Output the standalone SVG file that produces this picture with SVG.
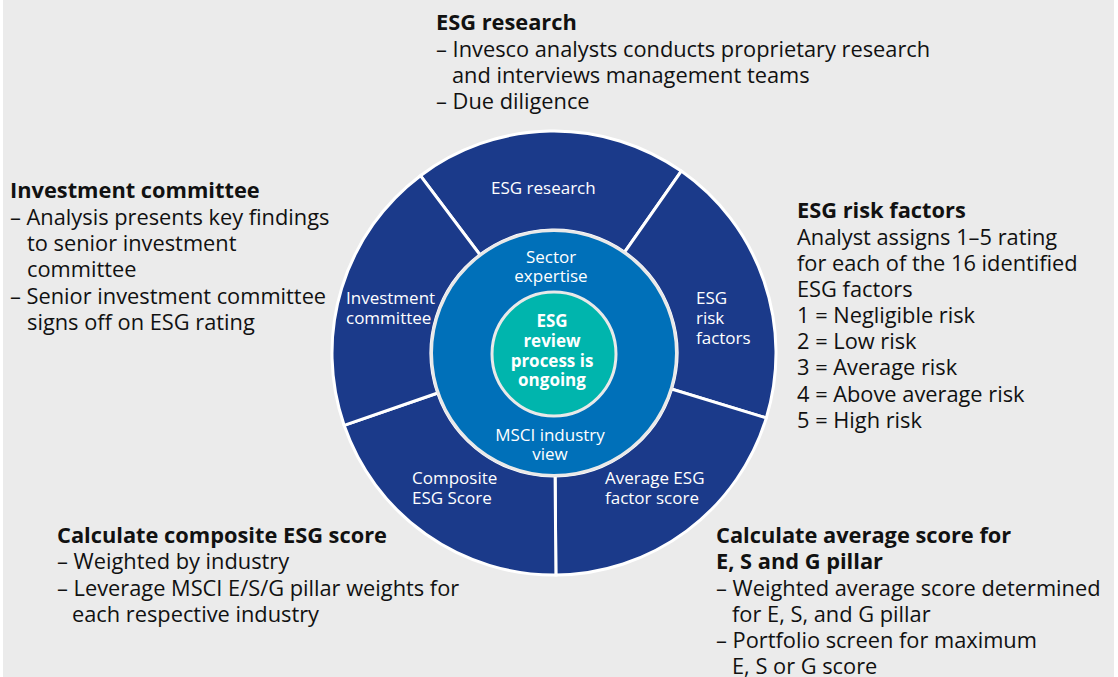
<svg xmlns="http://www.w3.org/2000/svg" width="1118" height="677" viewBox="0 0 1118 677">
<style>
.bg{fill:#ebebeb}
.seg{fill:#1b3a8a;stroke:#ffffff;stroke-width:3;stroke-linejoin:miter}
.ring{fill:#0070b9;stroke:#e9e9e9;stroke-width:3}
.core{fill:#00b5ad;stroke:#e9e9e9;stroke-width:3}
text{font-family:"Open Sans","Liberation Sans",sans-serif}
.h{font-size:21.8px;font-weight:700;fill:#111}
.t{font-size:21.8px;fill:#111}
.w{font-size:17px;fill:#fff}
.wb{font-size:17px;font-weight:700;fill:#fff}
.c{text-anchor:middle}
</style>
<rect x="0" y="0" width="1118" height="677" fill="#ffffff"/>
<rect class="bg" x="3" y="0" width="1111" height="677"/>

<g id="seg-research">
<path class="seg" d="M420.4 175.7 A222 222 0 0 1 681.3 171.1 L624.6 252.2 A123 123 0 0 0 480.0 254.8 Z"/>
<text class="w" x="491" y="194">ESG research</text>
</g>
<g id="seg-risk">
<path class="seg" d="M681.3 171.1 A222 222 0 0 1 766.3 417.9 L671.6 389.0 A123 123 0 0 0 624.6 252.2 Z"/>
<text class="w" x="696" y="304">ESG</text>
<text class="w" x="696" y="324">risk</text>
<text class="w" x="696" y="344">factors</text>
</g>
<g id="seg-average">
<path class="seg" d="M766.3 417.9 A222 222 0 0 1 555.9 575 L555.1 476 A123 123 0 0 0 671.6 389.0 Z"/>
<text class="w" x="605" y="484">Average ESG</text>
<text class="w" x="605" y="504">factor score</text>
</g>
<g id="seg-composite">
<path class="seg" d="M555.9 575 A222 222 0 0 1 344.1 425.3 L437.7 393.0 A123 123 0 0 0 555.1 476 Z"/>
<text class="w" x="412" y="484">Composite</text>
<text class="w" x="412" y="504">ESG Score</text>
</g>
<g id="seg-committee">
<path class="seg" d="M344.1 425.3 A222 222 0 0 1 420.4 175.7 L480.0 254.8 A123 123 0 0 0 437.7 393.0 Z"/>
<text class="w" x="346" y="304">Investment</text>
<text class="w" x="346" y="324">committee</text>
</g>

<g id="ring">
<circle class="ring" cx="554" cy="353" r="122.5"/>
<text class="w c" x="551" y="263">Sector</text>
<text class="w c" x="551" y="282">expertise</text>
<text class="w c" x="550" y="441">MSCI industry</text>
<text class="w c" x="550" y="460">view</text>
</g>

<g id="core">
<circle class="core" cx="554" cy="354" r="62"/>
<text class="wb c" x="552" y="327">ESG</text>
<text class="wb c" x="552" y="347">review</text>
<text class="wb c" x="552" y="367">process is</text>
<text class="wb c" x="552" y="386">ongoing</text>
</g>

<g id="note-research">
<text class="h" x="436" y="30">ESG research</text>
<text class="t" x="436" y="57">– Invesco analysts conducts proprietary research</text>
<text class="t" x="452" y="83">and interviews management teams</text>
<text class="t" x="436" y="109">– Due diligence</text>
</g>
<g id="note-committee">
<text class="h" x="10" y="198">Investment committee</text>
<text class="t" x="10" y="225">– Analysis presents key findings</text>
<text class="t" x="27" y="251">to senior investment</text>
<text class="t" x="27" y="277">committee</text>
<text class="t" x="10" y="304">– Senior investment committee</text>
<text class="t" x="27" y="330">signs off on ESG rating</text>
</g>
<g id="note-risk">
<text class="h" x="797" y="218">ESG risk factors</text>
<text class="t" x="797" y="245">Analyst assigns 1–5 rating</text>
<text class="t" x="797" y="271">for each of the 16 identified</text>
<text class="t" x="797" y="297">ESG factors</text>
<text class="t" x="797" y="323">1 = Negligible risk</text>
<text class="t" x="797" y="349">2 = Low risk</text>
<text class="t" x="797" y="375">3 = Average risk</text>
<text class="t" x="797" y="402">4 = Above average risk</text>
<text class="t" x="797" y="428">5 = High risk</text>
</g>
<g id="note-composite">
<text class="h" x="57" y="543">Calculate composite ESG score</text>
<text class="t" x="57" y="569">– Weighted by industry</text>
<text class="t" x="57" y="596">– Leverage MSCI E/S/G pillar weights for</text>
<text class="t" x="72" y="622">each respective industry</text>
</g>
<g id="note-average">
<text class="h" x="716" y="543">Calculate average score for</text>
<text class="h" x="716" y="569">E, S and G pillar</text>
<text class="t" x="716" y="596">– Weighted average score determined</text>
<text class="t" x="732" y="622">for E, S, and G pillar</text>
<text class="t" x="716" y="648">– Portfolio screen for maximum</text>
<text class="t" x="732" y="674">E, S or G score</text>
</g>
</svg>
